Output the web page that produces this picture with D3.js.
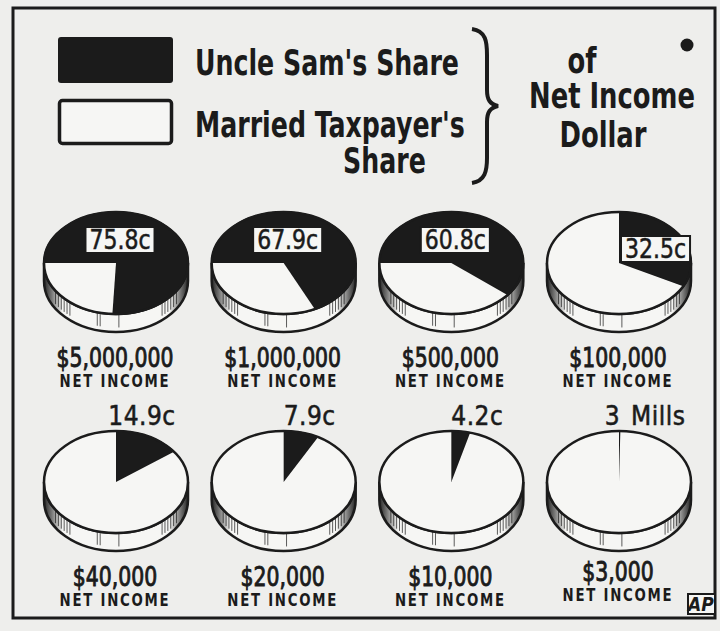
<!DOCTYPE html>
<html>
<head>
    <script src="https://d3js.org/d3.v7.min.js"></script>
    <style>
        body { margin: 0; background: #eeeeec; }
        text { font-family: "Liberation Sans Narrow", "DejaVu Sans Condensed", "Liberation Sans", sans-serif; font-stretch: condensed; fill: #1b1b1b; }
    </style>
</head>
<body>

<script>
// net income brackets and Uncle Sam's share of each dollar (cents)
const incomes = ['$5,000,000', '$1,000,000', '$500,000', '$100,000', '$40,000', '$20,000', '$10,000', '$3,000'];
const uncleSamCents = [75.8, 67.9, 60.8, 32.5, 14.9, 7.9, 4.2, 0.3];
const shareLabels = ['75.8c', '67.9c', '60.8c', '32.5c', '14.9c', '7.9c', '4.2c', '3 Mills'];
const legendLabels = ["Uncle Sam's Share", "Married Taxpayer's", 'Share'];
const titleLines = ['of', 'Net Income', 'Dollar'];

const width = 720, height = 631;
const ink = '#1b1b1b', paper = '#f6f6f4';

// the installed fonts run wider than the old condensed type, so squeeze them
function squeeze(sel, f) {
    sel.each(function() {
        const w = this.getComputedTextLength();
        d3.select(this)
            .attr('textLength', w * f)
            .attr('lengthAdjust', 'spacingAndGlyphs');
    });
}

const svg = d3.select('body')
    .append('svg')
    .attr('width', width)
    .attr('height', height);

svg.append('rect')
    .attr('width', width).attr('height', height)
    .attr('fill', '#eeeeec');

// side shading of the discs
const grad = svg.append('defs').append('linearGradient')
    .attr('id', 'side');
[[0, 0.95], [0.05, 0.6], [0.13, 0], [0.87, 0], [0.95, 0.6], [1, 0.95]].forEach(s => {
    grad.append('stop').attr('offset', s[0]).attr('stop-color', ink).attr('stop-opacity', s[1]);
});

// outer frame
svg.append('rect')
    .attr('x', 13).attr('y', 8)
    .attr('width', 702).attr('height', 610)
    .attr('fill', 'none')
    .attr('stroke', ink)
    .attr('stroke-width', 3);

// legend
svg.append('rect')
    .attr('x', 58).attr('y', 37).attr('width', 115).attr('height', 46)
    .attr('rx', 3)
    .attr('fill', ink);
svg.append('rect')
    .attr('x', 59.5).attr('y', 100.5).attr('width', 112).attr('height', 43)
    .attr('rx', 3)
    .attr('fill', paper)
    .attr('stroke', ink)
    .attr('stroke-width', 3.5);

const legendPos = [[195, 75], [195, 137], [343, 173]];
svg.selectAll('text.legend')
    .data(legendLabels)
    .enter()
    .append('text')
    .attr('class', 'legend')
    .attr('x', (d, i) => legendPos[i][0])
    .attr('y', (d, i) => legendPos[i][1])
    .attr('font-size', 36)
    .attr('font-weight', 'bold')
    .text(d => d)
    .call(squeeze, 0.78);

// curly brace
svg.append('path')
    .attr('d', 'M472,29 C486,31 487,42 487,55 L487,90 C487,100 490,104 498,106 C490,108 487,112 487,122 L487,158 C487,171 485,181 472,183')
    .attr('fill', 'none')
    .attr('stroke', ink)
    .attr('stroke-width', 4);

const titlePos = [[582, 73], [612, 108], [603, 147]];
svg.selectAll('text.title')
    .data(titleLines)
    .enter()
    .append('text')
    .attr('class', 'title')
    .attr('x', (d, i) => titlePos[i][0])
    .attr('y', (d, i) => titlePos[i][1])
    .attr('text-anchor', 'middle')
    .attr('font-size', 35)
    .attr('font-weight', 'bold')
    .text(d => d)
    .call(squeeze, 0.82);

svg.append('circle')
    .attr('cx', 687).attr('cy', 45).attr('r', 6.5)
    .attr('fill', ink);

// pies, four to a row
const xScale = d3.scalePoint()
    .domain(d3.range(4))
    .range([116, 619]);
const yScale = d3.scalePoint()
    .domain([0, 1])
    .range([263, 482]);

const rx = 72, ry = 51, depth = 18;
const pie = d3.pie().sort(null).value(d => d);
const arc = d3.arc().innerRadius(0).outerRadius(rx);
const sidePath = `M${-rx},0 L${-rx},${depth} A${rx},${ry} 0 0 0 ${rx},${depth} L${rx},0 A${rx},${ry} 0 0 1 ${-rx},0 Z`;

incomes.forEach((income, i) => {
    const cx = xScale(i % 4);
    const cy = yScale(Math.floor(i / 4));
    const share = uncleSamCents[i] / 100;
    const g = svg.append('g').attr('transform', `translate(${cx},${cy})`);

    // disc side
    g.append('path').attr('d', sidePath).attr('fill', paper);
    g.append('path').attr('d', sidePath).attr('fill', 'url(#side)');

    const hatch = d3.range(-0.84, -0.62, 0.04).concat(d3.range(0.64, 0.86, 0.04), [-0.26, -0.22, 0.04]);
    g.selectAll('line.hatch')
        .data(hatch)
        .enter()
        .append('line')
        .attr('x1', t => t * rx)
        .attr('x2', t => t * rx)
        .attr('y1', t => ry * Math.sqrt(1 - t * t))
        .attr('y2', t => ry * Math.sqrt(1 - t * t) + depth * 0.75)
        .attr('stroke', ink)
        .attr('stroke-width', 1)
        .attr('opacity', 0.7);

    g.append('path')
        .attr('d', sidePath)
        .attr('fill', 'none')
        .attr('stroke', ink)
        .attr('stroke-width', 2.5);

    // disc top
    const start = share > 0.5 ? -Math.PI / 2 : 0;
    const top = g.append('g').attr('transform', `scale(1,${ry / rx})`);
    top.selectAll('path')
        .data(pie.startAngle(start).endAngle(start + 2 * Math.PI)([share, 1 - share]))
        .enter()
        .append('path')
        .attr('d', arc)
        .attr('fill', (d, j) => j === 0 ? ink : paper)
        .attr('stroke', (d, j) => j === 0 ? ink : 'none')
        .attr('stroke-width', 1.5)
        .attr('stroke-linejoin', 'round')
        .attr('vector-effect', 'non-scaling-stroke');
    g.append('ellipse')
        .attr('rx', rx).attr('ry', ry)
        .attr('fill', 'none')
        .attr('stroke', ink)
        .attr('stroke-width', 2.5);

    // share label: boxed inside the big slices, above the small ones
    if (share > 0.2) {
        const lbl = g.append('g');
        const t = lbl.append('text')
            .attr('font-size', 26)
            .attr('y', 9)
            .attr('stroke', ink)
            .attr('stroke-width', 0.5)
            .text(shareLabels[i]);
        const w = t.node().getComputedTextLength() * 0.94;
        t.attr('textLength', w).attr('lengthAdjust', 'spacingAndGlyphs');
        lbl.insert('rect', 'text')
            .attr('x', -4).attr('y', -13)
            .attr('width', w + 8).attr('height', 26)
            .attr('fill', paper)
            .attr('stroke', ink)
            .attr('stroke-width', 2);
        const lx = share > 0.5 ? 4 - w / 2 : 6;
        const ly = share > 0.5 ? -23 : -14;
        lbl.attr('transform', `translate(${lx},${ly})`);
    } else {
        g.append('text')
            .attr('x', 26)
            .attr('y', -57)
            .attr('text-anchor', 'middle')
            .attr('font-size', 26)
            .attr('word-spacing', 3)
            .attr('letter-spacing', 0.5)
            .attr('stroke', ink)
            .attr('stroke-width', 0.5)
            .text(shareLabels[i]);
    }

    // income labels
    const shift = i === incomes.length - 1 ? -5 : 0;
    g.append('text')
        .attr('x', -1)
        .attr('y', 104 + shift)
        .attr('text-anchor', 'middle')
        .attr('font-size', 27)
        .attr('stroke', ink)
        .attr('stroke-width', 0.9)
        .text(income)
        .call(squeeze, 0.84);
    g.append('text')
        .attr('x', -1)
        .attr('y', 124 + shift)
        .attr('text-anchor', 'middle')
        .attr('font-size', 17)
        .attr('font-weight', 'bold')
        .attr('letter-spacing', 2)
        .text('NET INCOME')
        .call(squeeze, 0.87);
});

// AP mark
svg.append('rect')
    .attr('x', 688).attr('y', 594).attr('width', 27).attr('height', 20)
    .attr('fill', paper)
    .attr('stroke', ink)
    .attr('stroke-width', 2);
svg.append('text')
    .attr('x', 701).attr('y', 611)
    .attr('text-anchor', 'middle')
    .attr('font-size', 19)
    .attr('font-weight', 'bold')
    .attr('font-style', 'italic')
    .text('AP');
</script>

</body>
</html>
